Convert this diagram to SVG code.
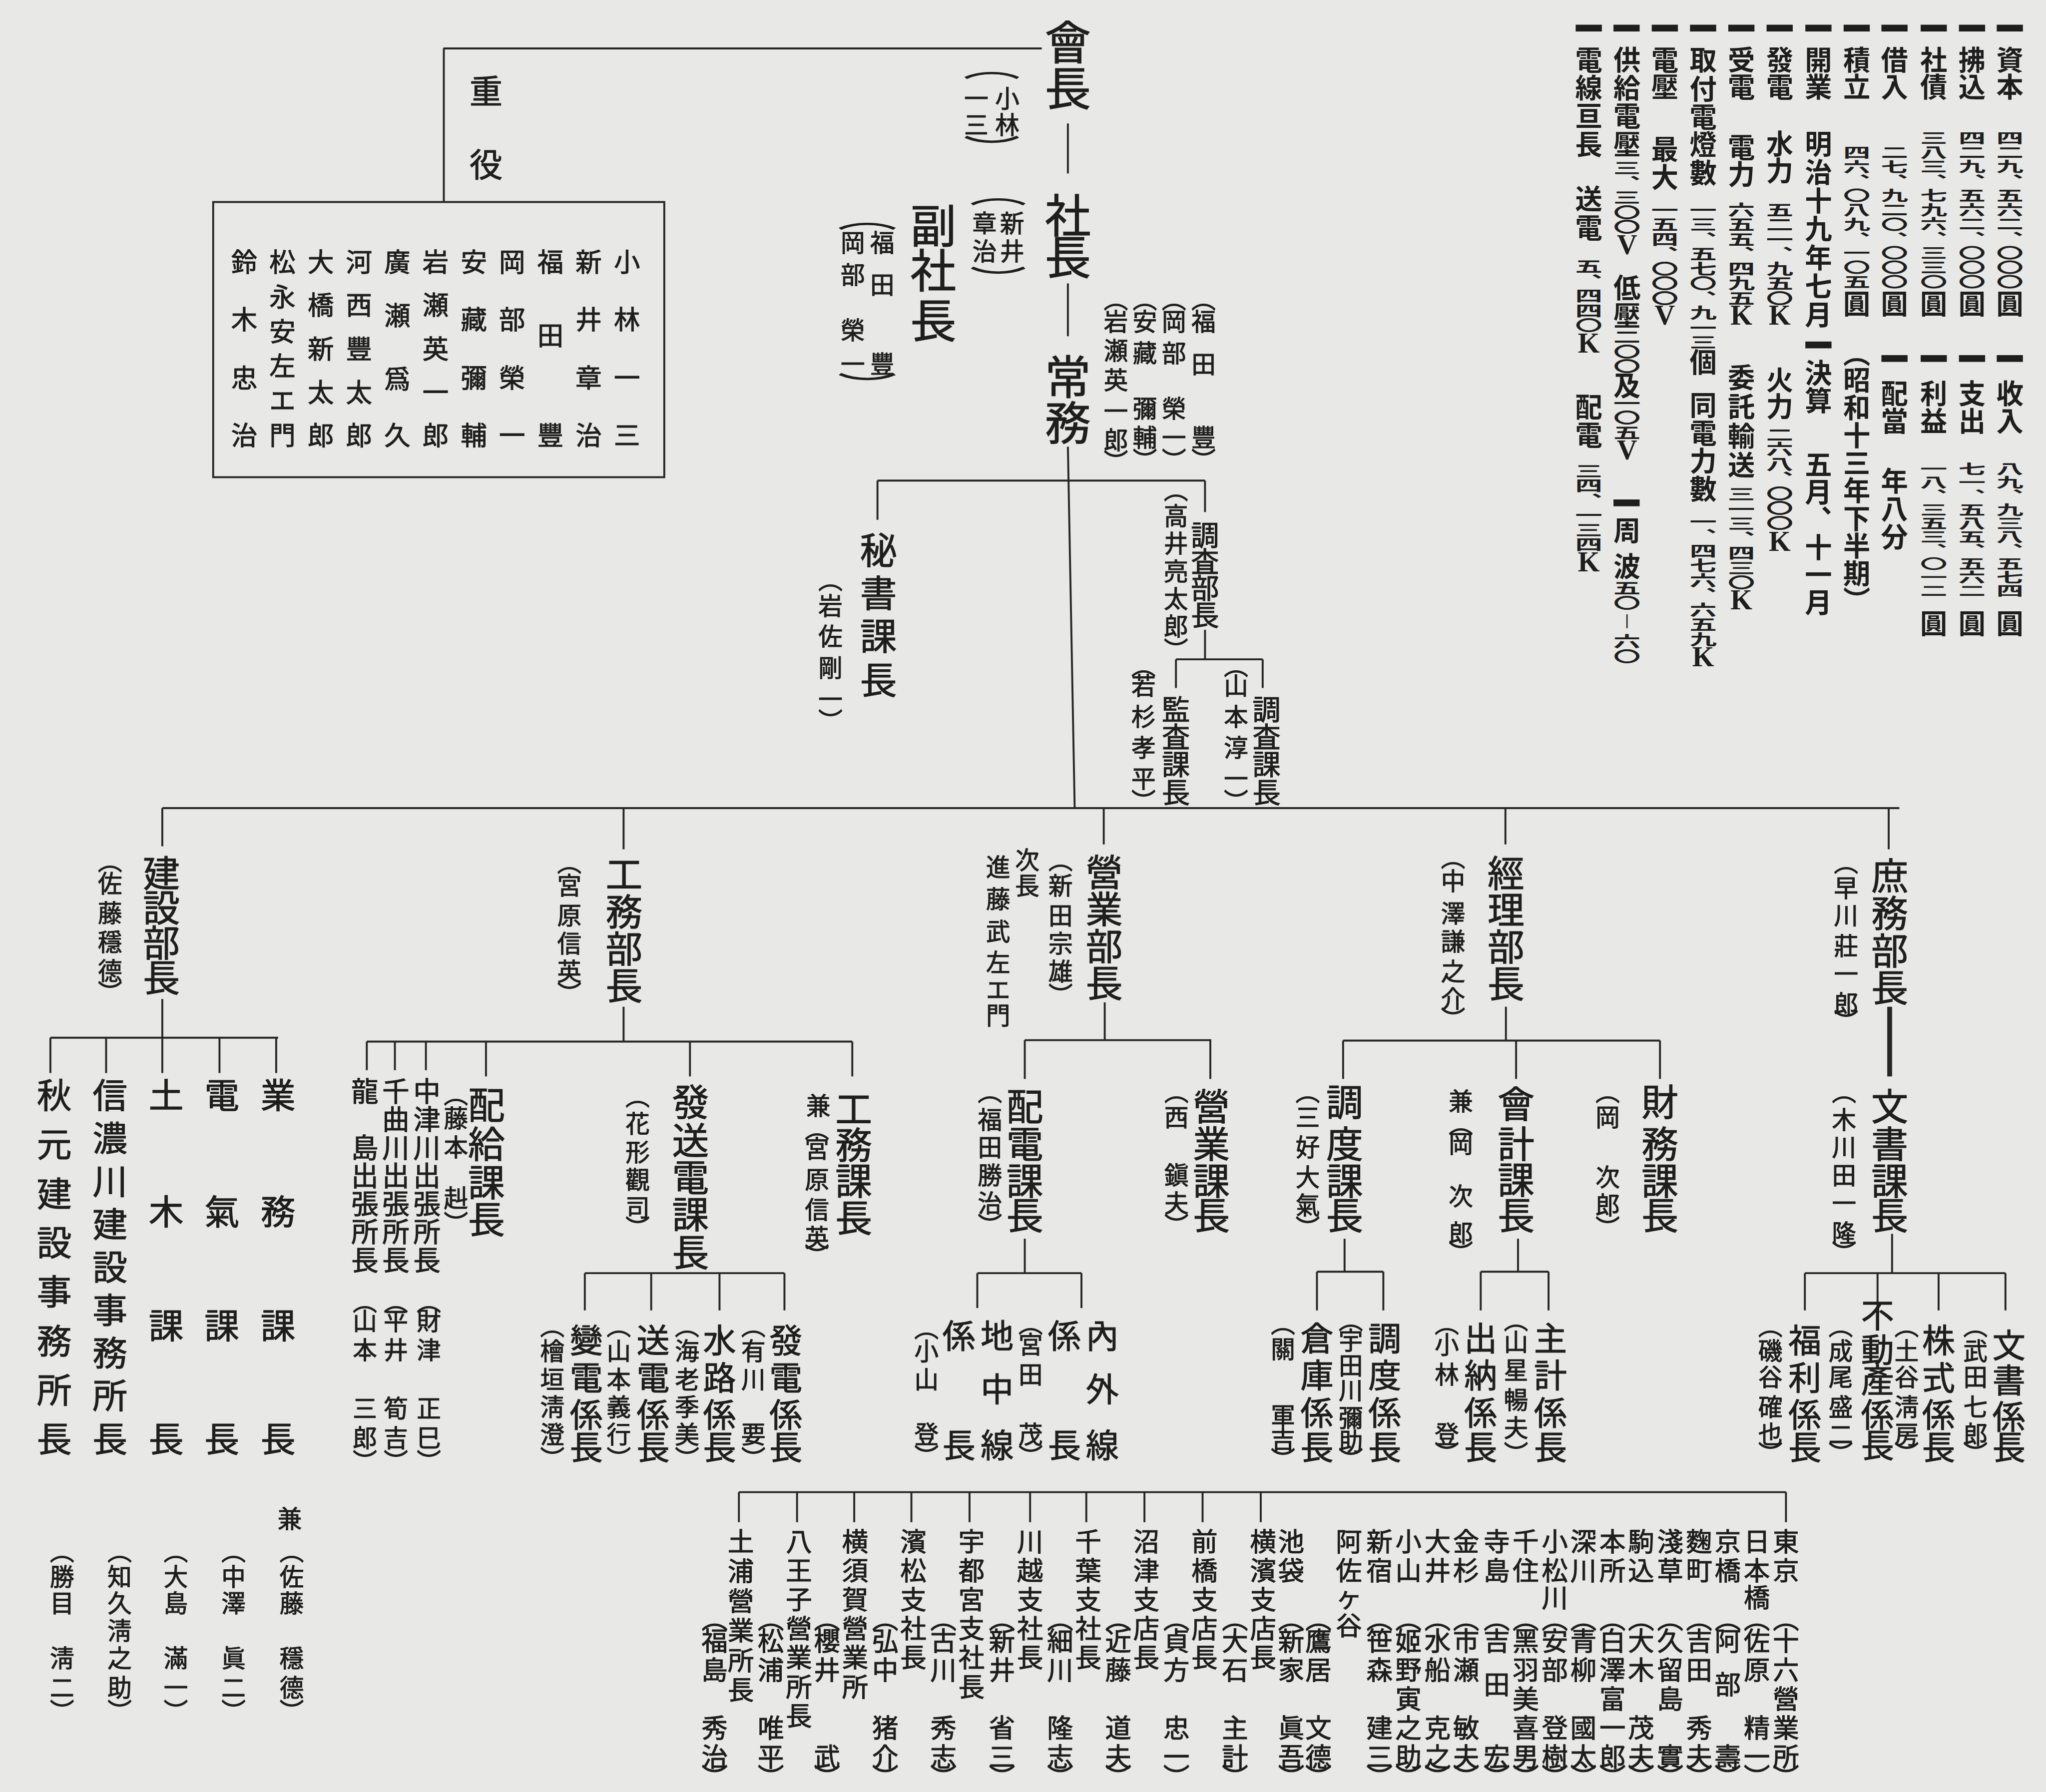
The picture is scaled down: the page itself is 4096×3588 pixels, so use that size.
<svg xmlns="http://www.w3.org/2000/svg" width="4096" height="3588" viewBox="0 0 4096 3588">
<style>
text{font-family:"Noto Sans CJK JP","Noto Sans CJK TC",sans-serif;fill:#1e1e1e;stroke:#1e1e1e;stroke-width:1.2px;text-anchor:middle;dominant-baseline:central}
.xl{font-size:95px}
.m{font-size:76px}
.w{font-size:72px}
.k{font-size:68px}
.c{font-size:58px}
.p{font-size:56px}
.t{font-size:54px}
.o{font-size:54px}
.s{font-size:50px}
.i{font-size:56px;font-weight:700;stroke-width:0}
.lat{font-family:"Liberation Serif",serif;font-size:58px;font-weight:700;stroke-width:0}
.ln{fill:none;stroke:#262626;stroke-width:4}
.bar{fill:#1e1e1e}
</style>
<rect width="4096" height="3588" fill="#e8e8e6"/>
<g transform="scale(0.97)">
<g id="connectors" class="ln">
<path d="M915 100H2150M916 100V417M2204 255V358M2204 585V694M2204 922L2218 1668M1811 992H2487M1811 992V1073M2487 992V1057M2487 1300V1361M2427 1361H2606M2427 1361V1420M2606 1361V1420"/>
<path d="M335 1668H3920M335 1668V1747M1287 1668V1753M2278 1668V1743M3107 1668V1743M3898 1668V1753"/>
<path d="M335 2062V2142M104 2142H574M104 2142V2215M219 2142V2215M335 2142V2215M453 2142V2215M570 2142V2215"/>
<path d="M1287 2078V2150M757 2150H1759M757 2150V2209M815 2150V2209M879 2150V2209M1003 2150V2222M1424 2150V2222M1759 2150V2222M1207 2628H1619M1207 2628V2705M1344 2628V2705M1485 2628V2705M1619 2628V2705"/>
<path d="M2280 2069V2147M2115 2147H2500M2115 2147V2227M2498 2147V2227M2115 2557V2628M2017 2628H2232M2017 2628V2700M2232 2628V2700"/>
<path d="M3108 2078V2148M2772 2148H3426M2772 2148V2227M3129 2148V2227M3426 2148V2227M2775 2557V2625M2718 2625H2855M2718 2625V2705M2855 2625V2705M3133 2557V2625M3056 2625H3196M3056 2625V2705M3196 2625V2705"/>
<path d="M3905 2547V2628M3725 2628H4139M3725 2628V2705M3875 2628V2705M4001 2628V2705M4139 2628V2705"/>
<path d="M3900 2078V2222" style="stroke-width:10"/>
<path d="M1525 3080H3686M1525 3080V3142M1645 3080V3142M1763 3080V3142M1881 3080V3142M2001 3080V3142M2126 3080V3142M2242 3080V3142M2362 3080V3142M2482 3080V3142M2602 3080V3142M3686 3080V3142"/>
</g>

<g id="kaicho">
<text class="xl" x="2204 2204" y="81 176">會長</text>
<text class="s" x="2079 2079 2015 2015" y="200 255 200 255">小林一三</text>
<text class="s" transform="translate(2047,136) scale(2.3,1)">︵</text>
<text class="s" transform="translate(2047,302) scale(2.3,1)">︶</text>
</g>
<g id="shacho">
<text class="xl" x="2204 2204" y="439 525">社長</text>
<text class="s" x="2089 2089 2032 2032" y="458 515 458 515">新井章治</text>
<text class="s" transform="translate(2060,397) scale(2.3,1)">︵</text>
<text class="s" transform="translate(2060,572) scale(2.3,1)">︶</text>
</g>
<g id="fukushacho">
<text class="xl" x="1926 1926 1926" y="460 553 656">副社長</text>
<text class="s" x="1821 1821 1821 1760 1760 1760 1760" y="498 585 748 498 564 678 748">福田豐岡部榮一</text>
<text class="s" transform="translate(1790,447) scale(2.4,1)">︵</text>
<text class="s" transform="translate(1790,792) scale(2.4,1)">︶</text>
</g>
<g id="jomu">
<text class="xl" x="2204 2204" y="772 867">常務</text>
<text class="s" x="2484 2484 2484 2484 2484" y="614 661 748 900 947">︵福田豐︶</text>
<text class="s" x="2423 2423 2423 2423 2423 2423" y="614 661 726 840 900 947">︵岡部榮一︶</text>
<text class="s" x="2363 2363 2363 2363 2363 2363" y="614 661 726 840 900 947">︵安藏彌輔︶</text>
<text class="s" x="2303 2303 2303 2303 2303 2303 2303" y="614 661 721 781 845 905 950">︵岩瀬英一郎︶</text>
</g>
<g id="juyaku">
<text class="k" x="1003 1003" y="183 335">重役</text>
<rect x="440" y="417" width="931" height="568" class="ln"/>
<text class="t" x="1294 1294 1294 1294" y="537 656 776 895">小林一三</text>
<text class="t" x="1215 1215 1215 1215" y="537 656 776 895">新井章治</text>
<text class="t" x="1136 1136 1136" y="537 689 895">福田豐</text>
<text class="t" x="1057 1057 1057 1057" y="537 656 776 895">岡部榮一</text>
<text class="t" x="978 978 978 978" y="537 656 776 895">安藏彌輔</text>
<text class="t" x="899 899 899 899 899" y="537 626 716 806 895">岩瀬英一郎</text>
<text class="t" x="820 820 820 820" y="537 647 778 895">廣瀬爲久</text>
<text class="t" x="741 741 741 741 741" y="537 626 716 806 895">河西豐太郎</text>
<text class="t" x="662 662 662 662 662" y="537 626 716 806 895">大橋新太郎</text>
<text class="t" x="583 583 583 583 583 583" y="537 609 680 752 823 895">松永安左エ門</text>
<text class="t" x="504 504 504 504" y="537 656 776 895">鈴木忠治</text>
</g>
<g id="hisho">
<text class="m" x="1813 1813 1813 1813" y="1130 1219 1308 1398">秘書課長</text>
<text class="s" x="1714 1714 1714 1714 1714 1714" y="1194 1247 1310 1375 1440 1486">︵岩佐剛一︶</text>
</g>
<g id="chosabu">
<text class="c" x="2487 2487 2487 2487" y="1100 1155 1210 1265">調査部長</text>
<text class="s" x="2427 2427 2427 2427 2427 2427 2427" y="1008 1062 1119 1176 1233 1290 1339">︵高井亮太郎︶</text>
</g>
<g id="kansa">
<text class="c" x="2427 2427 2427 2427" y="1460 1517 1574 1631">監査課長</text>
<text class="s" x="2360 2360 2360 2360 2360 2360" y="1371 1412 1476 1540 1604 1652">︵若杉孝平︶</text>
</g>
<g id="chosaka">
<text class="c" x="2614 2614 2614 2614" y="1460 1517 1574 1631">調査課長</text>
<text class="s" x="2551 2551 2551 2551 2551 2551" y="1371 1412 1476 1540 1604 1652">︵山本淳一︶</text>
</g>

<g id="kensetsu">
<text class="m" x="333 333 333 333" y="1797 1869 1941 2013">建設部長</text>
<text class="s" x="227 227 227 227 227 227" y="1774 1821 1881 1941 2001 2046">︵佐藤穩德︶</text>
</g>
<g id="gyomu">
<text class="w" x="574 574 574 574" y="2256 2496 2731 2965">業務課長</text>
<text class="s" x="598" y="3132">兼</text>
<text class="s" x="602 602 602 602 602 602" y="3199 3252 3306 3420 3480 3530">︵佐藤穩德︶</text>
</g>
<g id="denki">
<text class="w" x="458 458 458 458" y="2256 2496 2731 2965">電氣課長</text>
<text class="s" x="482 482 482 482 482 482" y="3199 3252 3306 3420 3480 3530">︵中澤眞二︶</text>
</g>
<g id="doboku">
<text class="w" x="343 343 343 343" y="2256 2496 2731 2965">土木課長</text>
<text class="s" x="363 363 363 363 363 363" y="3199 3252 3306 3420 3480 3530">︵大島滿一︶</text>
</g>
<g id="shinano">
<text class="w" x="227 227 227 227 227 227 227 227 227" y="2256 2345 2433 2522 2611 2699 2788 2876 2965">信濃川建設事務所長</text>
<text class="s" x="247 247 247 247 247 247 247" y="3199 3252 3306 3363 3420 3480 3530">︵知久淸之助︶</text>
</g>
<g id="akimoto">
<text class="w" x="112 112 112 112 112 112 112 112" y="2256 2357 2459 2560 2661 2763 2864 2965">秋元建設事務所長</text>
<text class="s" x="128 128 128 128 128 128" y="3199 3252 3306 3420 3480 3530">︵勝目淸二︶</text>
</g>

<g id="komu">
<text class="m" x="1288 1288 1288 1288" y="1799 1877 1953 2029">工務部長</text>
<text class="s" x="1175 1175 1175 1175 1175 1175" y="1777 1825 1887 1944 2002 2048">︵宮原信英︶</text>
</g>
<g id="haikyu">
<text class="m" x="1004 1004 1004 1004" y="2276 2356 2436 2512">配給課長</text>
<text class="s" x="941 941 941 941 941" y="2256 2305 2365 2470 2523">︵藤本赳︶</text>
</g>
<g id="nakatsugawa">
<text class="p" x="881 881 881 881 881 881 881" y="2249 2307 2365 2423 2481 2539 2597">中津川出張所長</text>
<text class="s" x="885 885 885 885 885 885" y="2684 2724 2784 2904 2965 3014">︵財津正巳︶</text>
</g>
<g id="chikumagawa">
<text class="p" x="817 817 817 817 817 817 817" y="2249 2307 2365 2423 2481 2539 2597">千曲川出張所長</text>
<text class="s" x="817 817 817 817 817 817" y="2684 2724 2784 2904 2965 3014">︵平井筍吉︶</text>
</g>
<g id="tatsushima">
<text class="p" x="753 753 753 753 753 753" y="2249 2365 2423 2481 2539 2597">龍島出張所長</text>
<text class="s" x="753 753 753 753 753 753" y="2684 2724 2784 2904 2965 3014">︵山本三郎︶</text>
</g>
<g id="hassoden">
<text class="m" x="1425 1425 1425 1425 1425" y="2270 2349 2425 2502 2580">發送電課長</text>
<text class="s" x="1316 1316 1316 1316 1316 1316" y="2260 2317 2375 2432 2490 2532">︵花形觀司︶</text>
</g>
<g id="komuka">
<text class="m" x="1762 1762 1762 1762" y="2284 2358 2432 2509">工務課長</text>
<text class="s" x="1689" y="2279">兼</text>
<text class="s" x="1686 1686 1686 1686 1686 1686" y="2327 2368 2432 2494 2552 2590">︵宮原信英︶</text>
</g>
<g id="henden">
<text class="k" x="1210 1210 1210 1210" y="2762 2839 2915 2982">變電係長</text>
<text class="s" x="1140 1140 1140 1140 1140 1140" y="2734 2786 2844 2901 2958 3008">︵檜垣淸澄︶</text>
</g>
<g id="soden">
<text class="k" x="1348 1348 1348 1348" y="2762 2839 2915 2982">送電係長</text>
<text class="s" x="1277 1277 1277 1277 1277 1277" y="2734 2786 2844 2901 2958 3008">︵山本義行︶</text>
</g>
<g id="suiro">
<text class="k" x="1485 1485 1485 1485" y="2762 2839 2915 2982">水路係長</text>
<text class="s" x="1418 1418 1418 1418 1418 1418" y="2734 2786 2844 2901 2958 3008">︵海老季美︶</text>
</g>
<g id="hatsuden">
<text class="k" x="1622 1622 1622 1622" y="2762 2839 2915 2982">發電係長</text>
<text class="s" x="1555 1555 1555 1555 1555" y="2734 2786 2844 2958 3008">︵有川要︶</text>
</g>

<g id="eigyo">
<text class="m" x="2279 2279 2279 2279" y="1795 1872 1948 2024">營業部長</text>
<text class="s" x="2189 2189 2189 2189 2189 2189" y="1772 1825 1887 1944 2002 2052">︵新田宗雄︶</text>
<text class="s" x="2120 2120" y="1772 1825">次長</text>
<text class="s" x="2060 2060 2060 2060 2060 2060" y="1787 1853 1920 1983 2040 2093">進藤武左エ門</text>
</g>
<g id="haiden">
<text class="m" x="2115 2115 2115 2115" y="2279 2356 2432 2504">配電課長</text>
<text class="s" x="2043 2043 2043 2043 2043 2043" y="2250 2308 2365 2423 2480 2527">︵福田勝治︶</text>
</g>
<g id="eigyoka">
<text class="m" x="2500 2500 2500 2500" y="2279 2356 2432 2504">營業課長</text>
<text class="s" x="2428 2428 2428 2428 2428" y="2250 2303 2423 2480 2527">︵西鎭夫︶</text>
</g>
<g id="naigaisen">
<text class="k" x="2275 2275 2275 2197 2197" y="2753 2863 2978 2753 2978">內外線係長</text>
<text class="s" x="2127 2127 2127 2127 2127" y="2729 2772 2834 2958 3004">︵宮田茂︶</text>
</g>
<g id="chichusen">
<text class="k" x="2058 2058 2058 1979 1979" y="2753 2863 2978 2753 2978">地中線係長</text>
<text class="s" x="1912 1912 1912 1912 1912" y="2738 2786 2844 2958 3004">︵小山登︶</text>
</g>

<g id="keiri">
<text class="m" x="3108 3108 3108 3108" y="1797 1873 1949 2025">經理部長</text>
<text class="s" x="2999 2999 2999 2999 2999 2999 2999" y="1767 1815 1882 1940 2002 2059 2101">︵中澤謙之介︶</text>
</g>
<g id="chodoka">
<text class="m" x="2775 2775 2775 2775" y="2270 2356 2432 2504">調度課長</text>
<text class="s" x="2699 2699 2699 2699 2699 2699" y="2250 2303 2365 2427 2485 2532">︵三好大氣︶</text>
</g>
<g id="kaikei">
<text class="m" x="3129 3129 3129 3129" y="2274 2356 2430 2504">會計課長</text>
<text class="s" x="3015" y="2270">兼</text>
<text class="s" x="3015 3015 3015 3015 3015" y="2317 2358 2466 2542 2584">︵岡次郎︶</text>
</g>
<g id="zaimu">
<text class="m" x="3426 3426 3426 3426" y="2270 2356 2432 2504">財務課長</text>
<text class="s" x="3318 3318 3318 3318 3318" y="2250 2303 2427 2485 2532">︵岡次郎︶</text>
</g>
<g id="chodogakari">
<text class="k" x="2858 2858 2858 2858" y="2758 2834 2911 2982">調度係長</text>
<text class="s" x="2788 2788 2788 2788 2788 2788 2788" y="2722 2764 2815 2867 2924 2972 3010">︵宇田川彌助︶</text>
</g>
<g id="soko">
<text class="k" x="2718 2718 2718 2718" y="2758 2834 2911 2982">倉庫係長</text>
<text class="s" x="2648 2648 2648 2648 2648" y="2729 2781 2920 2968 3010">︵關軍吉︶</text>
</g>
<g id="shukei">
<text class="k" x="3200 3200 3200 3200" y="2758 2834 2911 2982">主計係長</text>
<text class="s" x="3129 3129 3129 3129 3129 3129" y="2722 2767 2825 2887 2944 2998">︵山星暢夫︶</text>
</g>
<g id="suito">
<text class="k" x="3056 3056 3056 3056" y="2758 2834 2911 2982">出納係長</text>
<text class="s" x="2986 2986 2986 2986 2986" y="2729 2772 2834 2958 2998">︵小林登︶</text>
</g>

<g id="shomu">
<text class="m" x="3900 3900 3900 3900" y="1803 1880 1957 2034">庶務部長</text>
<text class="s" x="3810 3810 3810 3810 3810 3810 3810" y="1777 1830 1887 1949 2007 2069 2106">︵早川莊一郎︶</text>
</g>
<g id="bunshoka">
<text class="m" x="3900 3900 3900 3900" y="2279 2356 2432 2504">文書課長</text>
<text class="s" x="3806 3806 3806 3806 3806 3806 3806" y="2250 2308 2365 2423 2480 2542 2584">︵木川田一隆︶</text>
</g>
<g id="bunshogakari">
<text class="k" x="4146 4146 4146 4146" y="2772 2844 2920 2982">文書係長</text>
<text class="s" x="4077 4077 4077 4077 4077 4077" y="2734 2786 2839 2901 2958 2998">︵武田七郎︶</text>
</g>
<g id="kabushiki">
<text class="k" x="4001 4001 4001 4001" y="2762 2839 2915 2982">株式係長</text>
<text class="s" x="3935 3935 3935 3935 3935 3935" y="2734 2786 2839 2901 2958 2998">︵土谷淸房︶</text>
</g>
<g id="fudosan">
<text class="k" x="3875 3875 3875 3875 3875" y="2710 2781 2844 2915 2978">不動產係長</text>
<text class="s" x="3799 3799 3799 3799 3799 3799" y="2734 2786 2839 2901 2958 2998">︵成尾盛二︶</text>
</g>
<g id="fukuri">
<text class="k" x="3725 3725 3725 3725" y="2762 2839 2915 2982">福利係長</text>
<text class="s" x="3654 3654 3654 3654 3654 3654" y="2734 2786 2839 2901 2958 2998">︵磯谷確也︶</text>
</g>

<g id="tsuchiura"><text class="o" x="1529 1529 1529 1529 1529 1529" y="3178 3239 3301 3362 3424 3485">土浦營業所長</text><text class="o" x="1475 1475 1475 1475 1475 1475" y="3338 3383 3443 3563 3623 3665">︵福島秀治︶</text></g>
<g id="hachioji"><text class="o" x="1649 1649 1649 1649 1649 1649 1649" y="3178 3238 3298 3358 3418 3478 3538">八王子營業所長</text><text class="o" x="1591 1591 1591 1591 1591 1591" y="3338 3383 3443 3563 3623 3665">︵松浦唯平︶</text></g>
<g id="yokosuka"><text class="o" x="1765 1765 1765 1765 1765 1765" y="3178 3238 3298 3358 3418 3478">横須賀營業所</text><text class="o" x="1707 1707 1707 1707 1707" y="3338 3383 3443 3623 3665">︵櫻井武︶</text></g>
<g id="hamamatsu"><text class="o" x="1885 1885 1885 1885 1885" y="3178 3238 3298 3358 3418">濱松支社長</text><text class="o" x="1827 1827 1827 1827 1827 1827" y="3338 3383 3443 3563 3623 3665">︵弘中猪介︶</text></g>
<g id="utsunomiya"><text class="o" x="2005 2005 2005 2005 2005 2005" y="3178 3238 3298 3358 3418 3478">宇都宮支社長</text><text class="o" x="1947 1947 1947 1947 1947 1947" y="3338 3383 3443 3563 3623 3665">︵古川秀志︶</text></g>
<g id="kawagoe"><text class="o" x="2126 2126 2126 2126 2126" y="3178 3238 3298 3358 3418">川越支社長</text><text class="o" x="2068 2068 2068 2068 2068 2068" y="3338 3383 3443 3563 3623 3665">︵新井省三︶</text></g>
<g id="chiba"><text class="o" x="2246 2246 2246 2246 2246" y="3178 3238 3298 3358 3418">千葉支社長</text><text class="o" x="2188 2188 2188 2188 2188 2188" y="3338 3383 3443 3563 3623 3665">︵細川隆志︶</text></g>
<g id="numazu"><text class="o" x="2366 2366 2366 2366 2366" y="3178 3238 3298 3358 3418">沼津支店長</text><text class="o" x="2308 2308 2308 2308 2308 2308" y="3338 3383 3443 3563 3623 3665">︵近藤道夫︶</text></g>
<g id="maebashi"><text class="o" x="2486 2486 2486 2486 2486" y="3178 3238 3298 3358 3418">前橋支店長</text><text class="o" x="2428 2428 2428 2428 2428 2428" y="3338 3383 3443 3563 3623 3665">︵貞方忠一︶</text></g>
<g id="yokohama"><text class="o" x="2607 2607 2607 2607 2607" y="3178 3238 3298 3358 3418">横濱支店長</text><text class="o" x="2549 2549 2549 2549 2549 2549" y="3338 3383 3443 3563 3623 3665">︵大石主計︶</text></g>
<g id="ikebukuro"><text class="o" x="2665 2665 2665 2665 2665 2665 2665 2665" y="3178 3238 3338 3383 3443 3563 3623 3665">池袋︵新家眞吾︶</text></g>
<g id="asagaya"><text class="o" x="2784 2784 2784 2784" y="3178 3238 3294 3352">阿佐ヶ谷</text><text class="o" x="2721 2721 2721 2721 2721 2721" y="3338 3383 3443 3563 3623 3665">︵鷹居文德︶</text></g>
<g id="shinjuku"><text class="o" x="2847 2847 2847 2847 2847 2847 2847 2847" y="3178 3238 3338 3383 3443 3563 3623 3665">新宿︵笹森建三︶</text></g>
<g id="koyama"><text class="o" x="2907 2907 2907 2907 2907 2907 2907 2907 2907" y="3178 3238 3338 3383 3443 3503 3563 3623 3665">小山︵姬野寅之助︶</text></g>
<g id="oi"><text class="o" x="2967 2967 2967 2967 2967 2967 2967 2967" y="3178 3238 3338 3383 3443 3563 3623 3665">大井︵水船克之︶</text></g>
<g id="kanasugi"><text class="o" x="3026 3026 3026 3026 3026 3026 3026 3026" y="3178 3238 3338 3383 3443 3563 3623 3665">金杉︵市瀬敏夫︶</text></g>
<g id="terajima"><text class="o" x="3089 3089 3089 3089 3089 3089 3089" y="3178 3238 3338 3383 3473 3623 3665">寺島︵吉田宏︶</text></g>
<g id="senju"><text class="o" x="3149 3149 3149 3149 3149 3149 3149 3149 3149" y="3178 3238 3338 3383 3443 3503 3563 3623 3665">千住︵黑羽美喜男︶</text></g>
<g id="komatsugawa"><text class="o" x="3209 3209 3209 3209 3209 3209 3209 3209 3209" y="3178 3238 3294 3338 3383 3443 3563 3623 3665">小松川︵安部登樹︶</text></g>
<g id="fukagawa"><text class="o" x="3268 3268 3268 3268 3268 3268 3268 3268" y="3178 3238 3338 3383 3443 3563 3623 3665">深川︵青柳國太︶</text></g>
<g id="honjo"><text class="o" x="3328 3328 3328 3328 3328 3328 3328 3328 3328" y="3178 3238 3338 3383 3443 3503 3563 3623 3665">本所︵白澤富一郎︶</text></g>
<g id="komagome"><text class="o" x="3387 3387 3387 3387 3387 3387 3387 3387" y="3178 3238 3338 3383 3443 3563 3623 3665">駒込︵大木茂夫︶</text></g>
<g id="asakusa"><text class="o" x="3447 3447 3447 3447 3447 3447 3447 3447" y="3178 3238 3338 3383 3443 3503 3623 3665">淺草︵久留島實︶</text></g>
<g id="kojimachi"><text class="o" x="3507 3507 3507 3507 3507 3507 3507 3507" y="3178 3238 3338 3383 3443 3563 3623 3665">麴町︵吉田秀夫︶</text></g>
<g id="kyobashi"><text class="o" x="3566 3566 3566 3566 3566 3566 3566" y="3178 3238 3338 3383 3473 3623 3665">京橋︵阿部壽︶</text></g>
<g id="nihonbashi"><text class="o" x="3626 3626 3626 3626 3626 3626 3626 3626 3626" y="3178 3238 3294 3338 3383 3443 3563 3623 3665">日本橋︵佐原精一︶</text></g>
<g id="tokyo"><text class="o" x="3686 3686 3686 3686 3686 3686 3686 3686 3686" y="3178 3238 3338 3383 3443 3503 3563 3623 3665">東京︵十六營業所︶</text></g>

<g id="info">
<rect class="bar" x="4121" y="51" width="54" height="14"/><rect class="bar" x="4043" y="51" width="54" height="14"/><rect class="bar" x="3964" y="51" width="54" height="14"/><rect class="bar" x="3883" y="51" width="54" height="14"/><rect class="bar" x="3805" y="51" width="54" height="14"/><rect class="bar" x="3726" y="51" width="54" height="14"/><rect class="bar" x="3646" y="51" width="54" height="14"/><rect class="bar" x="3567" y="51" width="54" height="14"/><rect class="bar" x="3488" y="51" width="54" height="14"/><rect class="bar" x="3409" y="51" width="54" height="14"/><rect class="bar" x="3330" y="51" width="54" height="14"/><rect class="bar" x="3252" y="51" width="54" height="14"/>
<rect class="bar" x="4121" y="733" width="54" height="14"/><rect class="bar" x="4043" y="733" width="54" height="14"/><rect class="bar" x="3964" y="733" width="54" height="14"/><rect class="bar" x="3883" y="733" width="54" height="14"/><rect class="bar" x="3726" y="705" width="54" height="14"/><rect class="bar" x="3330" y="1031" width="54" height="14"/>

<text class="i" x="4148 4148" y="120 176">資本</text>
<text class="i" transform="translate(4148,283) scale(1,0.53)" x="0 0 0 0 0 0 0 0 0 0 0" y="0 56 112 168 224 280 336 392 448 504 560">四二九︑五六二︑〇〇〇</text>
<text class="i" x="4148" y="623">圓</text>
<text class="i" x="4148 4148" y="809 865">收入</text>
<text class="i" transform="translate(4148,966) scale(1,0.5)" x="0 0 0 0 0 0 0 0 0 0 0" y="0 56 112 168 224 280 336 392 448 504 560">八九︑九三八︑五七四</text>
<text class="i" x="4148" y="1283">圓</text>

<text class="i" x="4070 4070" y="120 176">拂込</text>
<text class="i" transform="translate(4070,283) scale(1,0.53)" x="0 0 0 0 0 0 0 0 0 0 0" y="0 56 112 168 224 280 336 392 448 504 560">四二九︑五六二︑〇〇〇</text>
<text class="i" x="4070" y="623">圓</text>
<text class="i" x="4070 4070" y="809 865">支出</text>
<text class="i" transform="translate(4070,966) scale(1,0.5)" x="0 0 0 0 0 0 0 0 0 0 0" y="0 56 112 168 224 280 336 392 448 504 560">七一︑五八五︑五六二</text>
<text class="i" x="4070" y="1283">圓</text>

<text class="i" x="3991 3991" y="120 176">社債</text>
<text class="i" transform="translate(3991,283) scale(1,0.53)" x="0 0 0 0 0 0 0 0 0 0 0" y="0 56 112 168 224 280 336 392 448 504 560">三八三︑七九六︑三三〇</text>
<text class="i" x="3991" y="623">圓</text>
<text class="i" x="3991 3991" y="809 865">利益</text>
<text class="i" transform="translate(3991,966) scale(1,0.5)" x="0 0 0 0 0 0 0 0 0 0 0" y="0 56 112 168 224 280 336 392 448 504 560">一八︑三五三︑〇一二</text>
<text class="i" x="3991" y="1283">圓</text>

<text class="i" x="3910 3910" y="120 176">借入</text>
<text class="i" transform="translate(3910,313) scale(1,0.53)" x="0 0 0 0 0 0 0 0 0 0" y="0 56 112 168 224 280 336 392 448 504">二七︑九二〇︑〇〇〇</text>
<text class="i" x="3910" y="623">圓</text>
<text class="i" x="3910 3910" y="809 865">配當</text>
<text class="i" x="3910 3910 3910" y="989 1047 1105">年八分</text>

<text class="i" x="3832 3832" y="120 176">積立</text>
<text class="i" transform="translate(3832,313) scale(1,0.53)" x="0 0 0 0 0 0 0 0 0 0" y="0 56 112 168 224 280 336 392 448 504">四六︑〇八九︑一〇五</text>
<text class="i" x="3832" y="623">圓</text>
<text class="i" x="3832 3832 3832 3832 3832 3832 3832 3832 3832 3832" y="726 781 838 895 952 1009 1066 1123 1180 1236">︵昭和十三年下半期︶</text>

<text class="i" x="3753 3753" y="120 176">開業</text>
<text class="i" x="3753 3753 3753 3753 3753 3753 3753" y="293 352 411 469 528 587 646">明治十九年七月</text>
<text class="i" x="3753 3753" y="767 823">決算</text>
<text class="i" x="3753 3753 3753 3753 3753 3753" y="955 1012 1069 1126 1183 1240">五月︑十一月</text>

<text class="i" x="3673 3673" y="120 176">發電</text>
<text class="i" x="3673 3673" y="293 349">水力</text>
<text class="i" transform="translate(3673,431) scale(1,0.543)" x="0 0 0 0 0 0 0" y="0 56 112 168 224 280 336">五二一︑九五〇</text>
<text class="lat" x="3673" y="651">K</text>
<text class="i" x="3673 3673" y="781 836">火力</text>
<text class="i" transform="translate(3673,895) scale(1,0.543)" x="0 0 0 0 0 0 0" y="0 56 112 168 224 280 336">二六八︑〇〇〇</text>
<text class="lat" x="3673" y="1118">K</text>

<text class="i" x="3594 3594" y="120 176">受電</text>
<text class="i" x="3594 3594" y="300 356">電力</text>
<text class="i" transform="translate(3594,431) scale(1,0.543)" x="0 0 0 0 0 0 0" y="0 56 112 168 224 280 336">六五五︑四九五</text>
<text class="lat" x="3594" y="651">K</text>
<text class="i" x="3594 3594 3594 3594" y="776 836 896 956">委託輸送</text>
<text class="i" transform="translate(3594,1018) scale(1,0.543)" x="0 0 0 0 0 0 0" y="0 56 112 168 224 280 336">三一三︑四三〇</text>
<text class="lat" x="3594" y="1238">K</text>

<text class="i" x="3515 3515 3515 3515 3515" y="120 180 238 294 353">取付電燈數</text>
<text class="i" transform="translate(3515,431) scale(1,0.543)" x="0 0 0 0 0 0 0 0 0 0" y="0 56 112 168 224 280 336 392 448 504">一三︑五七〇︑九一三</text>
<text class="i" x="3515" y="744">個</text>
<text class="i" x="3515 3515 3515 3515" y="832 890 948 1006">同電力數</text>
<text class="i" transform="translate(3515,1074) scale(1,0.543)" x="0 0 0 0 0 0 0 0 0" y="0 56 112 168 224 280 336 392 448">一︑四七六︑六五九</text>
<text class="lat" x="3515" y="1356">K</text>

<text class="i" x="3436 3436" y="120 176">電壓</text>
<text class="i" x="3436 3436" y="305 362">最大</text>
<text class="i" transform="translate(3436,431) scale(1,0.543)" x="0 0 0 0 0 0 0" y="0 56 112 168 224 280 336">一五四︑〇〇〇</text>
<text class="lat" x="3436" y="651">V</text>

<text class="i" x="3358 3358 3358 3358" y="120 178 236 294">供給電壓</text>
<text class="i" transform="translate(3358,345) scale(1,0.543)" x="0 0 0 0 0" y="0 56 112 168 224">三︑三〇〇</text>
<text class="lat" x="3358" y="505">V</text>
<text class="i" x="3358 3358" y="590 648">低壓</text>
<text class="i" transform="translate(3358,693) scale(1,0.543)" x="0 0 0" y="0 56 112">二〇〇</text>
<text class="i" x="3358" y="792">及</text>
<text class="i" transform="translate(3358,830) scale(1,0.543)" x="0 0 0" y="0 56 112">一〇五</text>
<text class="lat" x="3358" y="929">V</text>
<text class="i" x="3358 3358" y="1091 1165">周波</text>
<text class="i" transform="translate(3358,1212) scale(1,0.543)" x="0 0" y="0 56">五〇</text>
<text class="i" transform="translate(3358,1280) scale(1,0.6)">︱</text>
<text class="i" transform="translate(3358,1322) scale(1,0.543)" x="0 0" y="0 56">六〇</text>

<text class="i" x="3279 3279 3279 3279" y="120 178 236 294">電線亘長</text>
<text class="i" x="3279 3279" y="407 466">送電</text>
<text class="i" transform="translate(3279,548) scale(1,0.543)" x="0 0 0 0 0" y="0 56 112 168 224">五︑四四〇</text>
<text class="lat" x="3279" y="708">K</text>
<text class="i" x="3279 3279" y="837 894">配電</text>
<text class="i" transform="translate(3279,970) scale(1,0.543)" x="0 0 0 0 0 0" y="0 56 112 168 224 280">三四︑一三四</text>
<text class="lat" x="3279" y="1160">K</text>
</g>
</g>
</svg>
